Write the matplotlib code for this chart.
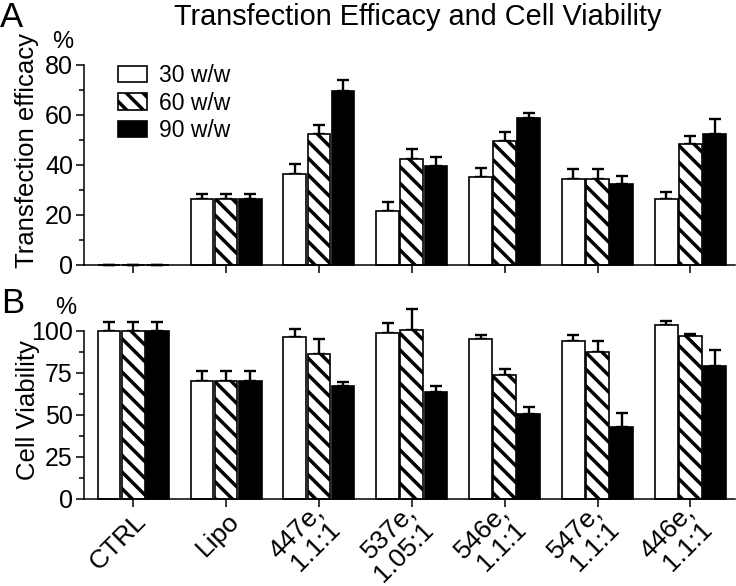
import numpy as np
import matplotlib
matplotlib.use("Agg")
import matplotlib.pyplot as plt
import matplotlib.transforms as mtransforms

plt.rcParams['font.family'] = ['Liberation Sans', 'DejaVu Sans']
plt.rcParams['hatch.linewidth'] = 2.5

groups = ['CTRL', 'Lipo', '447e,\n1.1:1', '537e,\n1.05:1', '546e,\n1.1:1',
          '547e,\n1.1:1', '446e,\n1.1:1']
series = ['30 w/w', '60 w/w', '90 w/w']

# transfection efficacy (%) and upper error
eff_30 = [0, 26.4, 36.4, 21.6, 35.2, 34.4, 26.4]
eff_60 = [0, 26.4, 52.4, 42.4, 49.6, 34.4, 48.4]
eff_90 = [0, 26.4, 69.6, 39.6, 58.8, 32.4, 52.4]
eff_err_30 = [0, 2.0, 4.0, 3.6, 3.6, 4.0, 2.8]
eff_err_60 = [0, 2.0, 3.6, 4.0, 3.6, 4.0, 3.2]
eff_err_90 = [0, 2.0, 4.4, 3.6, 2.0, 3.2, 6.0]

# cell viability (%) and upper error
via_30 = [100, 70.4, 96.4, 98.6, 95.2, 94.0, 103.6]
via_60 = [100, 70.4, 86.3, 100.4, 74.0, 87.3, 97.0]
via_90 = [100, 70.4, 67.5, 63.5, 50.4, 42.9, 79.2]
via_err_30 = [5.5, 6.0, 4.6, 6.4, 2.4, 3.6, 2.5]
via_err_60 = [5.5, 6.0, 8.7, 12.9, 3.2, 6.9, 1.2]
via_err_90 = [5.5, 6.0, 2.3, 3.8, 4.6, 8.1, 9.5]

W, H = 736, 586
fig = plt.figure(figsize=(W / 100, H / 100), dpi=100)

axA = fig.add_axes([84 / W, 1 - 265 / H, 651 / W, 200 / H])
axB = fig.add_axes([84 / W, 1 - 499 / H, 651 / W, 168 / H])

x = np.arange(len(groups))
offsets = [-0.26, 0, 0.26]
styles = [dict(color='white', hatch=None),
          dict(color='white', hatch='\\\\'),
          dict(color='black', hatch=None)]


def draw(ax, vals, errs):
    handles = []
    for v, e, off, st, lab in zip(vals, errs, offsets, styles, series):
        v = np.array(v)
        b = ax.bar(x + off, v, width=0.245, color=st['color'], edgecolor='black',
                   linewidth=1.2, hatch=st['hatch'], label=lab, clip_on=False,
                   zorder=2)
        ax.errorbar(x + off, v, yerr=[np.zeros_like(v), e], fmt='none',
                    ecolor='black', elinewidth=1.7, capsize=4.3, capthick=1.7,
                    clip_on=False, zorder=1)
        handles.append(b)
    for s in ['top', 'right']:
        ax.spines[s].set_visible(False)
    for s in ['left', 'bottom']:
        ax.spines[s].set_linewidth(1.1)
    ax.set_xlim(-0.53, 6.48)
    ax.set_xticks(x)
    ax.tick_params(axis='both', which='major', length=6, width=1.1,
                   labelsize=18, direction='out', pad=2)
    ax.tick_params(axis='y', which='minor', length=3.5, width=1.1)
    return handles


hA = draw(axA, [eff_30, eff_60, eff_90], [eff_err_30, eff_err_60, eff_err_90])
axA.set_ylim(0, 80)
axA.set_yticks([0, 20, 40, 60, 80])
axA.set_yticks([10, 30, 50, 70], minor=True)
axA.set_xticklabels([])

draw(axB, [via_30, via_60, via_90], [via_err_30, via_err_60, via_err_90])
axB.set_ylim(0, 100)
axB.set_yticks([0, 25, 50, 75, 100])
axB.set_yticks([12.5, 37.5, 62.5, 87.5], minor=True)
labs = axB.set_xticklabels(groups, rotation=45, ha='right', va='center',
                           rotation_mode='anchor', fontsize=19, linespacing=1.05,
                           multialignment='right')
shift = mtransforms.ScaledTranslation(9 / 100, -7 / 100, fig.dpi_scale_trans)
for t in labs:
    t.set_transform(t.get_transform() + shift)

leg = fig.legend(handles=hA, labels=series, loc='upper left',
                 bbox_to_anchor=(118 / W, 1 - 64 / H), frameon=False,
                 fontsize=16.5, handlelength=1.27, handleheight=0.74,
                 handletextpad=0.5, labelspacing=0.2, borderpad=0,
                 borderaxespad=0)

fig.text(418 / W, 1 - 17 / H, 'Transfection Efficacy and Cell Viability',
         ha='center', va='center', fontsize=20.8)
fig.text(12 / W, 1 - 1 / H, 'A', ha='center', va='top', fontsize=25)
fig.text(13 / W, 1 - 304 / H, 'B', ha='center', va='center', fontsize=25)
fig.text(27 / W, 1 - 150 / H, 'Transfection efficacy', rotation=90,
         ha='center', va='center', fontsize=18.5)
fig.text(28 / W, 1 - 410 / H, 'Cell Viability', rotation=90,
         ha='center', va='center', fontsize=18.5)
fig.text(63 / W, 1 - 42 / H, '%', ha='center', va='center', fontsize=17)
fig.text(66 / W, 1 - 308 / H, '%', ha='center', va='center', fontsize=17)

fig.savefig('out.png', dpi=100)
